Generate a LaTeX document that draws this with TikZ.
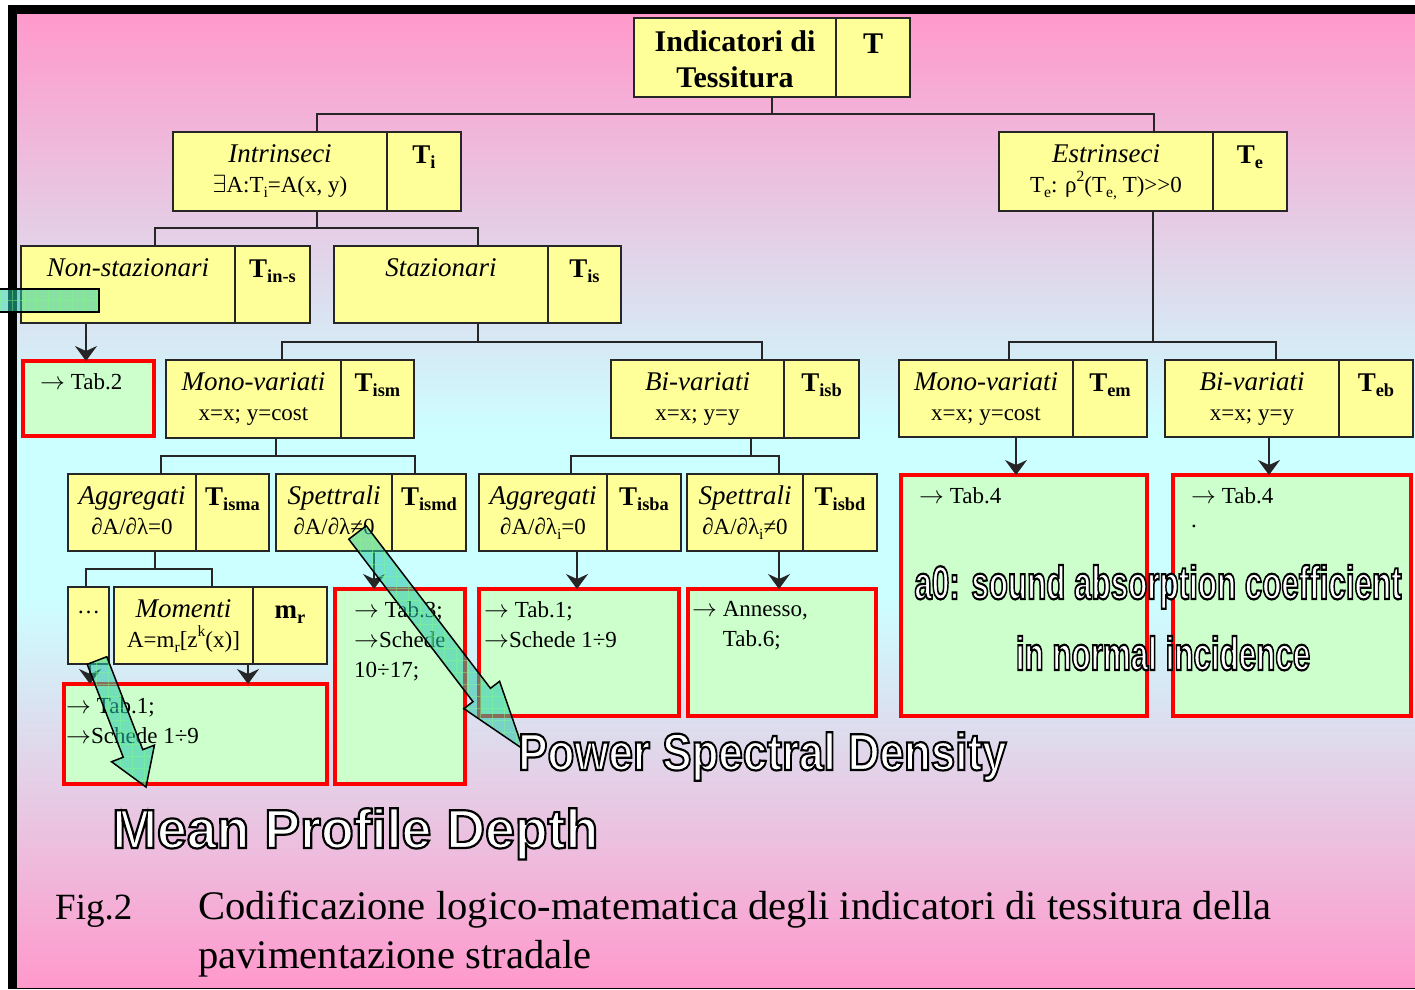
\documentclass[tikz,border=0pt]{standalone}
\usepackage{fontspec}
\setmainfont{Liberation Serif}
\setsansfont{Liberation Sans}
\usetikzlibrary{calc,positioning,arrows.meta}

\definecolor{pinkbg}{RGB}{255,153,204}
\definecolor{cyanbg}{RGB}{204,255,255}
\definecolor{ybox}{RGB}{255,255,153}
\definecolor{gbox}{RGB}{204,255,204}
\definecolor{afill}{RGB}{40,200,170}

% path box is mapped onto 25bp..75bp of the shading
\pgfdeclareverticalshading{bgfade}{100bp}{color(0bp)=(pinkbg); color(25bp)=(pinkbg);
  color(45bp)=(cyanbg); color(53.5bp)=(cyanbg); color(75bp)=(pinkbg); color(100bp)=(pinkbg)}

\newcommand{\subtx}[1]{\raisebox{-.22em}{\scalebox{.68}{#1}}}
\newcommand{\suptx}[1]{\raisebox{.45em}{\scalebox{.68}{#1}}}
\newcommand{\toarr}{\ensuremath{\rightarrow}}
% white letters with a black rim
\newcommand{\outlined}[1]{\special{pdf:literal direct 0 0 0 RG 2.2 w 2 Tr}#1\special{pdf:literal direct 0 Tr}}

% fat pointer: tail, tip, half shaft, half head, head length
\newcommand{\blockarrow}[5]{%
  \coordinate (neck) at ($(#2)!#5!(#1)$);
  \path[bigarrow] ($(#1)!#3!90:(#2)$) -- ($(neck)!#3!90:(#2)$)
    -- ($(neck)!#4!90:(#2)$) -- (#2) -- ($(neck)!#4!-90:(#2)$)
    -- ($(neck)!#3!-90:(#2)$) -- ($(#1)!#3!-90:(#2)$) -- cycle;}

\tikzset{
    ycell/.style={draw=black!85, line width=1.4pt, fill=ybox, inner sep=0pt, outer sep=0pt},
    leaf/.style={draw=red, line width=3.5pt, fill=gbox, inner sep=0pt, outer sep=0pt},
    treeln/.style={draw=black!85, line width=1.6pt},
    downarr/.style={treeln, -{Stealth[length=15pt, width=22pt, inset=5pt]}},
    ttl/.style={font=\fontsize{27}{32}\selectfont\itshape, inner sep=0pt},
    eqn/.style={font=\fontsize{23}{28}\selectfont, inner sep=0pt},
    sym/.style={font=\fontsize{27}{32}\selectfont\bfseries, inner sep=0pt},
    rootfont/.style={font=\fontsize{30}{36}\selectfont\bfseries, inner sep=0pt},
    leaftxt/.style={font=\fontsize{23}{30}\selectfont, align=left, anchor=north west, inner sep=0pt},
    gridln/.style={draw=white!50!green, line width=0.6pt, opacity=0.45},
    bigarrow/.style={draw=black, line width=1.5pt, fill=afill, fill opacity=0.55,
        path picture={\draw[gridln] (path picture bounding box.south west)
            grid[step=12pt] (path picture bounding box.north east);}},
    outl/.style={text=white, inner sep=0pt, font=\fontsize{#1}{#1}\selectfont\sffamily\bfseries},
    capt/.style={font=\fontsize{#1}{49}\selectfont, inner sep=0pt, anchor=base west},
}

\begin{document}
\begin{tikzpicture}[x=1pt, y=-1pt]

\useasboundingbox (0,0) rectangle (1415,989);
\fill[white] (0,0) rectangle (1415,989);
\fill[black] (8,5) rectangle (1425,989);
\shade[shading=bgfade] (17,14) rectangle (1425,987);

% root
\node[ycell, minimum width=202pt, minimum height=79pt, anchor=north west] (root) at (634,18) {};
\node[ycell, minimum width=74pt, minimum height=79pt, right=0pt of root] (root-T) {};
\node[rootfont, anchor=base] (root-ti) at ([yshift=-33pt]root.north) {Indicatori di};
\node[rootfont, anchor=base] (root-ti2) at ([yshift=-69pt]root.north) {Tessitura};
\node[rootfont, anchor=base] (root-sy) at ([yshift=-35pt]root-T.north) {T};

% two-cell boxes
\foreach \n/\x/\y/\wl/\wr/\h/\ti/\eq/\sy in {
  intr/173/132/214/74/79/Intrinseci/{$\exists$A:T\subtx{i}=A(x, y)}/{T\subtx{i}},
  estr/999/132/214/74/79/Estrinseci/{T\subtx{e}: ρ\suptx{2}(T\subtx{e,} T)>{}>0}/{T\subtx{e}},
  nons/21/246/214/75/77/Non-stazionari/{}/{T\subtx{in-s}},
  staz/334/246/214/73/77/Stazionari/{}/{T\subtx{is}},
  ism/166/360/175/73/78/Mono-variati/{x=x; y=cost}/{T\subtx{ism}},
  isb/611/360/173/75/78/Bi-variati/{x=x; y=y}/{T\subtx{isb}},
  em/899/360/174/74/77/Mono-variati/{x=x; y=cost}/{T\subtx{em}},
  eb/1165/360/174/74/77/Bi-variati/{x=x; y=y}/{T\subtx{eb}},
  isma/68/474/128/73/77/Aggregati/{∂A/∂λ=0}/{T\subtx{isma}},
  ismd/276/474/116/74/77/Spettrali/{∂A/∂λ≠0}/{T\subtx{ismd}},
  isba/479/474/128/74/77/Aggregati/{∂A/∂λ\subtx{i}=0}/{T\subtx{isba}},
  isbd/687/474/116/74/77/Spettrali/{∂A/∂λ\subtx{i}≠0}/{T\subtx{isbd}},
  mom/114/587/139/74/77/Momenti/{A=m\subtx{r}[z\suptx{k}(x)]}/{m\subtx{r}}}
{
  \node[ycell, minimum width=\wl pt, minimum height=\h pt, anchor=north west] (\n) at (\x,\y) {};
  \node[ycell, minimum width=\wr pt, minimum height=\h pt, right=0pt of \n] (\n-T) {};
  \node[ttl, anchor=base] (\n-ti) at ([yshift=-30pt]\n.north) {\ti};
  \node[eqn, anchor=base] (\n-eq) at ([yshift=-60pt]\n.north) {\eq};
  \node[sym, anchor=base] (\n-sy) at ([yshift=-31pt]\n-T.north) {\sy};
}

\node[ycell, minimum width=41pt, minimum height=77pt, anchor=north west] (dots) at (68,587) {};
\node[eqn, anchor=base] (dots-ti) at ([yshift=-26pt]dots.north) {\textellipsis};

% result boxes
\foreach \n/\x/\y/\w/\h/\tx/\ty/\txt in {
  tab2/23/361/131/75/40/373/{\toarr{} Tab.2},
  tabA/64/684/263/100/66/697/{\toarr{} Tab.1;\\\toarr{}Schede 1÷9},
  tab3/335/589/130/195/354/601/{\toarr{} Tab.3;\\\toarr{}Schede\\10÷17;},
  tabB/479/589/200/127/484/601/{\toarr{} Tab.1;\\\toarr{}Schede 1÷9},
  ann/688/589/188/127/692/601/{\toarr{} Annesso,\\\phantom{\toarr{} }Tab.6;},
  tab4a/901/475/246/241/919/487/{\toarr{} Tab.4},
  tab4b/1173/475/238/241/1191/487/{\toarr{} Tab.4\\[-6pt].}}
{
  \node[leaf, minimum width=\w pt, minimum height=\h pt, anchor=north west] (\n) at (\x,\y) {};
  \node[leaftxt] (\n-txt) at (\tx,\ty) {\txt};
}

% attach points
\foreach \n/\ta/\tb in {root/772/772, intr/317/317, estr/1154/1153, nons/155/86,
  staz/478/478, ism/282/276, isb/762/751, em/1009/1016, eb/1276/1269,
  isma/161/155, ismd/415/374, isba/571/577, isbd/779/779, dots/86/90, mom/212/248}
{
  \coordinate (\n-in) at (\n.north -| \ta,0);
  \coordinate (\n-out) at (\n.south -| \tb,0);
}

\foreach \p/\c in {root/intr, root/estr, intr/nons, intr/staz, staz/ism, staz/isb,
  estr/em, estr/eb, ism/isma, ism/ismd, isb/isba, isb/isbd, isma/dots, isma/mom}
  \draw[treeln] (\p-out) |- ([yshift=18pt]\c-in) -- (\c-in);

\foreach \p/\l in {nons/tab2, dots/tabA, mom/tabA, ismd/tab3, isba/tabB,
  isbd/ann, em/tab4a, eb/tab4b}
  \draw[downarr] (\p-out) -- (\p-out |- \l.north);

% pointers
\coordinate (psd-tail) at (357.5,532.5);
\coordinate (psd-tip) at (523,749);
\blockarrow{psd-tail}{psd-tip}{11pt}{22.5pt}{68pt}
\coordinate (mpd-tail) at (97,660.5);
\coordinate (mpd-tip) at (146,787);
\blockarrow{mpd-tail}{mpd-tip}{10.5pt}{23pt}{36pt}
\path[bigarrow] (-5,289) rectangle (99,312);

% overlay labels
\node[outl=55, anchor=base west] (mpd) at (112,848)
  {\scalebox{.976}[1]{\outlined{Mean Profile Depth}}};
\node[outl=52, anchor=base west] (psd) at (518,770)
  {\scalebox{.845}[1]{\outlined{Power Spectral Density}}};
\node[outl=47, anchor=base] (alpha1) at (1158,599)
  {\scalebox{.667}[1]{\outlined{a0: sound absorption coefficient}}};
\node[outl=47, anchor=base] (alpha2) at (1163,670)
  {\scalebox{.667}[1]{\outlined{in normal incidence}}};

% caption
\node[capt=37] (fig) at (55,919) {Fig.2};
\node[capt=40.6] (cap1) at (198,919) {Codificazione logico-matematica degli indicatori di tessitura della};
\node[capt=40.6] (cap2) at (198,968) {pavimentazione stradale};

\end{tikzpicture}
\end{document}
